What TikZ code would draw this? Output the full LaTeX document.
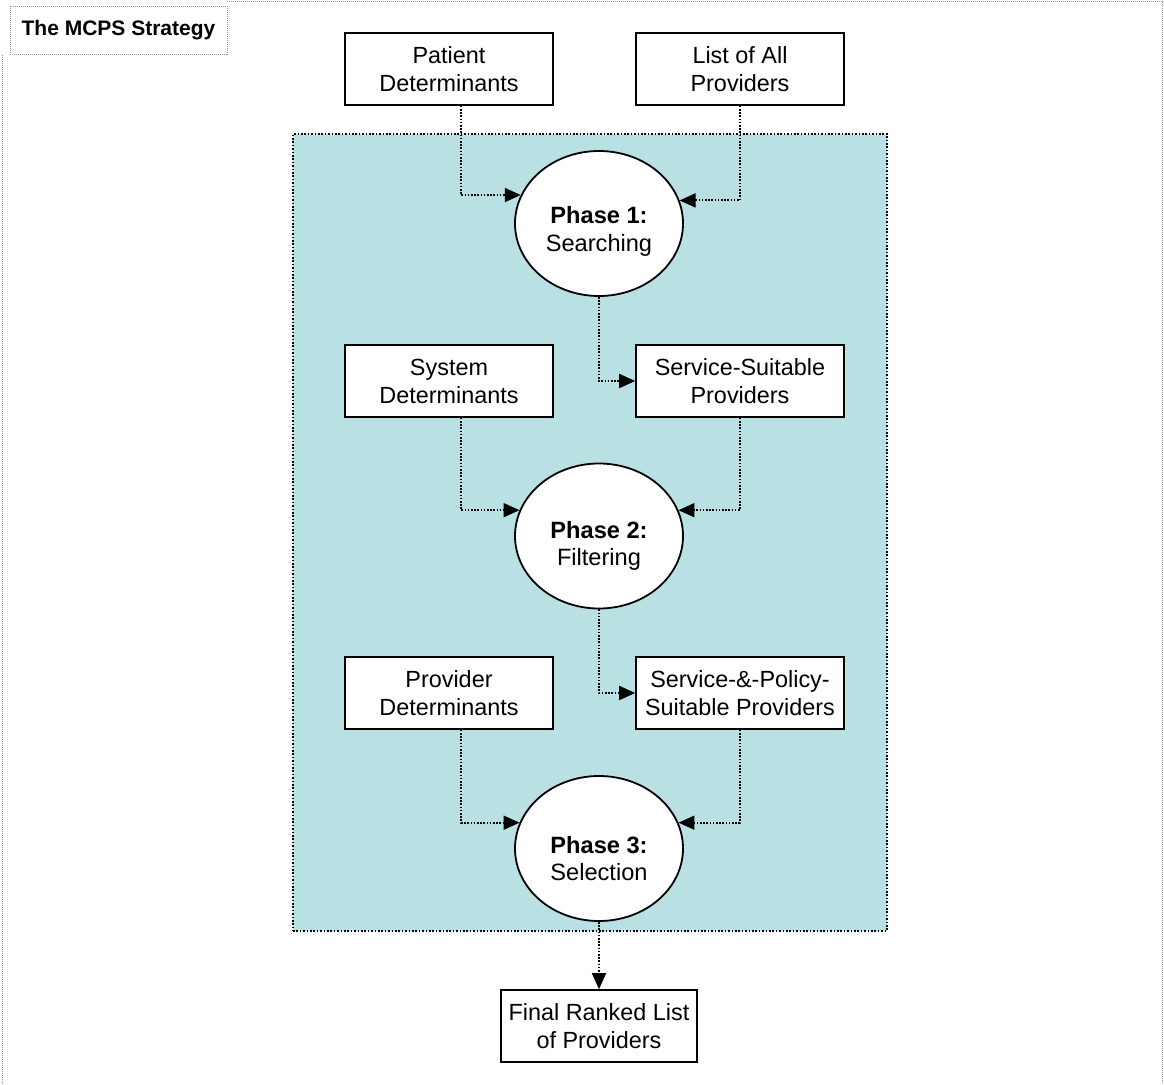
\documentclass[tikz,border=0pt]{standalone}
\usepackage{fontspec}
\setmainfont{Liberation Sans}
\usetikzlibrary{shapes.geometric,arrows.meta}
\definecolor{panelteal}{RGB}{185,224,227}
\definecolor{framegray}{RGB}{150,150,150}
\begin{document}
\begin{tikzpicture}[x=1pt,y=-1pt,
  textbox/.style={draw,fill=white,line width=1.6pt,minimum width=208pt,
    minimum height=72pt,align=center,inner sep=2pt,
    font=\fontsize{23.4}{28}\selectfont},
  phase/.style={ellipse,draw,fill=white,line width=1.8pt,minimum width=168pt,
    minimum height=145pt,inner sep=0pt},
  phasetext/.style={align=center,inner sep=0pt,
    font=\fontsize{23.6}{27.5}\selectfont},
  flow/.style={line width=1.8pt,dash pattern=on 1.6pt off 1.6pt,
    -{Triangle[length=16pt,width=14pt]}},
  framedots/.style={framegray,line width=1pt,dash pattern=on 1pt off 1pt},
  panelbox/.style={draw,fill=panelteal,line width=1.8pt,
    dash pattern=on 1.6pt off 1.8pt,minimum width=594pt,minimum height=797pt,
    inner sep=0pt},
  titlebox/.style={draw=framegray,line width=1pt,dash pattern=on 1pt off 1pt,
    minimum width=217pt,minimum height=48pt,inner sep=0pt,
    font=\fontsize{21}{25}\selectfont\bfseries}
]
\useasboundingbox (0,0) rectangle (1164,1084);

% outer frame and caption
\draw[framedots] (227,1) -- (1162,1) -- (1162,1084);
\draw[framedots] (2,55) -- (2,1084);
\node[titlebox] (title) at (118.5,30) {The MCPS Strategy};

% shaded strategy panel
\node[panelbox] (panel) at (590,532.5) {};

% inputs and intermediate results
\node[textbox] (pd)  at (449,69)  {Patient\\Determinants};
\node[textbox] (la)  at (740,69)  {List of All\\Providers};
\node[textbox] (sd)  at (449,381) {System\\Determinants};
\node[textbox] (ss)  at (740,381) {Service-Suitable\\Providers};
\node[textbox] (prd) at (449,693) {Provider\\Determinants};
\node[textbox] (sp)  at (740,693) {Service-\&-Policy-\\Suitable Providers};
\node[textbox,minimum width=196pt] (fin) at (599,1026) {Final Ranked List\\of Providers};

% phases
\node[phase] (ph1) at (599,223.5) {};
\node[phase] (ph2) at (599,536)   {};
\node[phase] (ph3) at (599,848.5) {};
\node[phasetext] (ph1t) at ([yshift=-8pt]ph1.center) {\textbf{Phase 1:}\\Searching};
\node[phasetext] (ph2t) at ([yshift=-10pt]ph2.center) {\textbf{Phase 2:}\\Filtering};
\node[phasetext] (ph3t) at ([yshift=-10pt]ph3.center) {\textbf{Phase 3:}\\Selection};

% flows
\draw[flow] ([xshift=12pt]pd.south) |- (ph1.160);
\draw[flow] (la.south) |- (ph1.16);
\draw[flow] (ph1.south) |- (ss.west);
\draw[flow] ([xshift=12pt]sd.south) |- (ph2.162);
\draw[flow] (ss.south) |- (ph2.18);
\draw[flow] (ph2.south) |- (sp.west);
\draw[flow] ([xshift=12pt]prd.south) |- (ph3.162);
\draw[flow] (sp.south) |- (ph3.18);
\draw[flow] (ph3.south) -- (fin.north);
\end{tikzpicture}
\end{document}
